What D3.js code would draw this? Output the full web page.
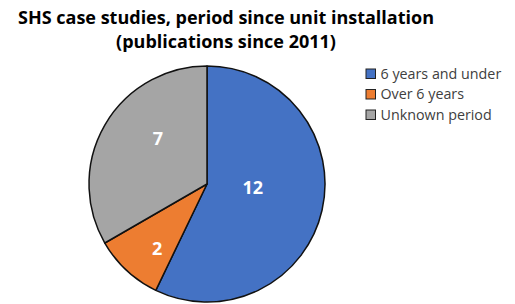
<!DOCTYPE html>
<html>
<head>
<meta charset="utf-8">
<script src="https://cdn.jsdelivr.net/npm/d3@7"></script>
<style>
  body { margin: 0; background: #fff; }
  svg { display: block; }
</style>
</head>
<body>
<div class="chart"></div>
<script>
// -- DATA --
const categories = ["6 years and under", "Over 6 years", "Unknown period"];
const counts = [12, 2, 7];
const titleLines = ["SHS case studies, period since unit installation", "(publications since 2011)"];

const colors = ["#4472C4", "#ED7D31", "#A5A5A5"];

var width = 515,
    height = 304,
    cx = 207,
    cy = 184,
    radius = 118,
    svg = d3.select("div.chart").append("svg")
            .attr("width", width)
            .attr("height", height);

var color = d3.scaleOrdinal().domain(categories).range(colors);

var pie = d3.pie()
    .sort(null)
    .value(function(d, i) { return counts[i]; });

var arcs = pie(categories);

var arc = d3.arc().innerRadius(0).outerRadius(radius);

// label placement tweaks (radius fraction, angle shift in deg), like excel's best fit
var labelFrac = [0.39, 0.69, 0.57];
var labelShift = [-8, -5, 13];

var g = svg.append("g")
    .attr("transform", "translate(" + cx + "," + cy + ")");

g.selectAll("path.slice")
    .data(arcs)
  .enter().append("path")
    .attr("class", "slice")
    .attr("fill", function(d) { return color(d.data); })
    .attr("stroke", "#111")
    .attr("stroke-width", 1.5)
    .attr("stroke-linejoin", "round")
    .attr("d", arc);

g.selectAll("text.lbl")
    .data(arcs)
  .enter().append("text")
    .attr("class", "lbl")
    .attr("transform", function(d, i) {
      var r = radius * labelFrac[i],
          a = (d.startAngle + d.endAngle) / 2 + labelShift[i] * Math.PI / 180;
      return "translate(" + (r * Math.sin(a)) + "," + (-r * Math.cos(a)) + ")";
    })
    .attr("text-anchor", "middle")
    .attr("dy", "0.36em")
    .attr("fill", "#fff")
    .style("font-family", "'Open Sans', sans-serif")
    .style("font-weight", "bold")
    .style("font-size", "18px")
    .text(function(d, i) { return counts[i]; });

// title
svg.append("text")
    .attr("x", 226)
    .attr("y", 24)
    .attr("text-anchor", "middle")
    .attr("fill", "#000")
    .style("font-family", "'Open Sans', sans-serif")
    .style("font-weight", "bold")
    .style("font-size", "18px")
  .selectAll("tspan")
    .data(titleLines)
  .enter().append("tspan")
    .attr("x", 226)
    .attr("dy", function(d, i) { return i == 0 ? 0 : 24; })
    .text(function(d) { return d; });

// legend
var legend = svg.append("g")
    .attr("transform", "translate(366,69)");

var rows = legend.selectAll("g")
    .data(categories)
  .enter().append("g")
    .attr("transform", function(d, i) { return "translate(0," + i * 20.5 + ")"; });

rows.append("rect")
    .attr("width", 9.5)
    .attr("height", 9.5)
    .attr("fill", function(d) { return color(d); })
    .attr("stroke", "#222")
    .attr("stroke-width", 1);

rows.append("text")
    .attr("x", 14.5)
    .attr("y", 9.5)
    .attr("fill", "#404040")
    .style("font-family", "'Open Sans', sans-serif")
    .style("font-size", "14.3px")
    .text(function(d) { return d; });
</script>
</body>
</html>
